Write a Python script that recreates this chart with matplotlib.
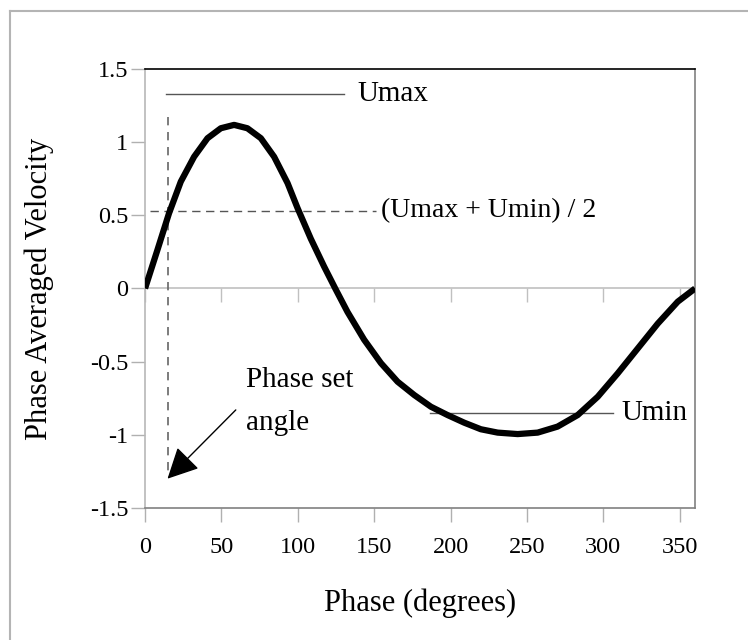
import matplotlib
matplotlib.use("Agg")
import matplotlib.pyplot as plt
from matplotlib.lines import Line2D
from matplotlib.ticker import FuncFormatter

plt.rcParams["font.family"] = ["Liberation Serif", "DejaVu Serif"]
plt.rcParams["axes.unicode_minus"] = False

# phase-averaged velocity
phase = [0, 8.1, 15.7, 23.4, 32.1, 40.9, 49.6, 58.3, 67, 75.8, 84.5, 93.3, 99.8, 108.5,
         117.2, 124.5, 132.5, 143.4, 154.4, 165.3, 176.2, 187.1, 198, 208.9, 219.8, 230.8,
         243.9, 257, 270, 283.2, 296.3, 309.4, 322.5, 335.6, 348.7, 360]
velocity = [0, 0.263, 0.514, 0.73, 0.90, 1.027, 1.095, 1.118, 1.095, 1.027, 0.90, 0.72,
            0.55, 0.34, 0.15, 0.0, -0.16, -0.35, -0.51, -0.637, -0.728, -0.808, -0.865,
            -0.917, -0.962, -0.985, -0.995, -0.985, -0.944, -0.865, -0.74, -0.58, -0.41,
            -0.24, -0.09, 0]

x_ticks = [0, 50, 100, 150, 200, 250, 300, 350]
y_ticks = [-1.5, -1, -0.5, 0, 0.5, 1, 1.5]

u_max = 1.33
u_mean = 0.53
u_min = -0.85
set_angle = 15

fig = plt.figure(figsize=(7.48, 6.4), dpi=100)
fig.patch.set_facecolor("white")
ax = fig.add_axes([0.1939, 0.2063, 0.7353, 0.6859])

ax.plot(phase, velocity, color="black", lw=4.5, solid_joinstyle="round",
        solid_capstyle="butt", zorder=5)

# helper lines
ax.plot([13.7, 130], [u_max, u_max], color="#555555", lw=1)
ax.plot([186.6, 306], [u_min, u_min], color="#555555", lw=1)
ax.plot([3, 151], [u_mean, u_mean], color="#555555", lw=1, dashes=(6, 4))
ax.plot([set_angle, set_angle], [1.17, -1.27], color="#666666", lw=1.2, dashes=(5, 4))

ax.text(139.3, u_max, "Umax", fontsize=21, va="center", ha="left")
ax.text(154.4, u_mean, "(Umax + Umin) / 2", fontsize=20, va="center", ha="left")
ax.text(311.6, u_min, "Umin", fontsize=21, va="center", ha="left")
ax.annotate("", xy=(14.7, -1.30), xytext=(59.4, -0.83),
            arrowprops=dict(arrowstyle="-|>", mutation_scale=48, lw=1, color="black",
                            shrinkA=0, shrinkB=0))
ax.text(66, -0.625, "Phase set", fontsize=21, va="center", ha="left")
ax.text(66, -0.92, "angle", fontsize=21, va="center", ha="left")

ax.set_xlim(0, 360)
ax.set_ylim(-1.5, 1.5)
ax.set_xticks(x_ticks)
ax.set_yticks(y_ticks)
ax.yaxis.set_major_formatter(FuncFormatter(lambda v, p: "%g" % v))
ax.tick_params(axis="both", direction="out", length=10, width=1, color="#b0b0b0",
               labelsize=17.5)
ax.tick_params(axis="x", pad=11)
ax.tick_params(axis="y", pad=2)

ax.spines["top"].set_color("black")
ax.spines["right"].set_color("#808080")
ax.spines["bottom"].set_color("#808080")
ax.spines["left"].set_color("#b8b8b8")
for s in ax.spines.values():
    s.set_linewidth(1.2)

# category axis crossing at zero
ax.axhline(0, color="#c0c0c0", lw=1.2, zorder=1)
zero_frac = (0 - y_ticks[0]) / (y_ticks[-1] - y_ticks[0])
sec = ax.secondary_xaxis(zero_frac)
sec.set_xticks(x_ticks)
sec.tick_params(direction="out", length=10, width=1, color="#c0c0c0")
sec.xaxis.set_ticks_position("bottom")
sec.set_xticklabels([])
for s in sec.spines.values():
    s.set_visible(False)

ax.set_xlabel("Phase (degrees)", fontsize=22, labelpad=22)
ax.set_ylabel("Phase Averaged Velocity", fontsize=22, labelpad=26)

# outer frame (left and top edges only visible)
fig.add_artist(Line2D([10 / 748, 10 / 748], [0, 1 - 11 / 640], transform=fig.transFigure,
                      color="#b4b4b4", lw=1.5))
fig.add_artist(Line2D([10 / 748, 1], [1 - 11 / 640, 1 - 11 / 640], transform=fig.transFigure,
                      color="#b4b4b4", lw=1.5))

fig.savefig("out.png", dpi=100, facecolor="white")
